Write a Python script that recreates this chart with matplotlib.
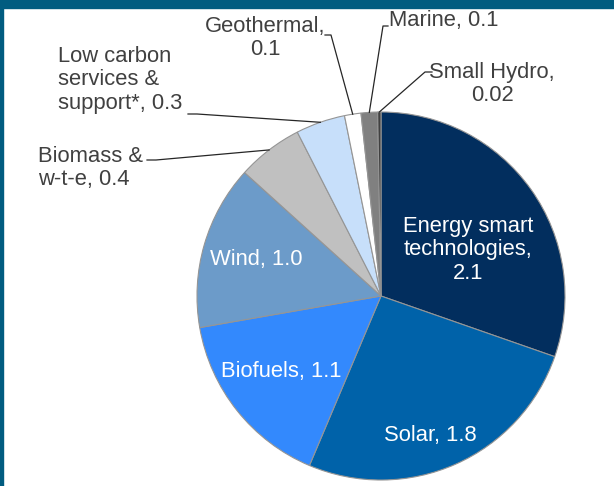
import numpy as np
import matplotlib
matplotlib.use("Agg")
import matplotlib.pyplot as plt
from matplotlib.patches import Rectangle

plt.rcParams['font.family'] = ['Liberation Sans', 'DejaVu Sans']

# Sector sizes (£bn), clockwise from 12 o'clock
sectors = ["Energy smart\ntechnologies", "Solar", "Biofuels", "Wind",
           "Biomass &\nw-t-e", "Low carbon\nservices &\nsupport*",
           "Geothermal", "Marine", "Small Hydro"]
values = [2.1, 1.8, 1.1, 1.0, 0.4, 0.3, 0.1, 0.1, 0.02]
value_text = ["2.1", "1.8", "1.1", "1.0", "0.4", "0.3", "0.1", "0.1", "0.02"]
colors = ["#022E5E", "#0062A9", "#3389FD", "#6C9BC9", "#C0C0C0",
          "#C7DFFA", "#FFFFFF", "#808080", "#404040"]

W, H = 614, 486
fig = plt.figure(figsize=(W / 100, H / 100), dpi=100)
ax = fig.add_axes([0, 0, 1, 1])

cx, cy, R = 381, H - 296, 184

wedges, _ = ax.pie(values, colors=colors, startangle=90, counterclock=False,
                   center=(cx, cy), radius=R, frame=True,
                   wedgeprops=dict(edgecolor="#959595", linewidth=0.8))
ax.set_xlim(0, W)
ax.set_ylim(0, H)
ax.axis("off")

fs = 15.8
ls = 1.15
tc = "#404040"

def mid_point(i, r):
    w = wedges[i]
    a = np.deg2rad((w.theta1 + w.theta2) / 2)
    return cx + r * np.cos(a), cy + r * np.sin(a)

# Inner labels (white)
inner_pos = {0: (468, H - 250), 1: (430, H - 435),
             2: (281, H - 371), 3: (256, H - 260)}
for i, (x, y) in inner_pos.items():
    if i == 0:
        txt = sectors[i].replace("\n", "\n") + ",\n" + value_text[i]
    else:
        txt = f"{sectors[i]}, {value_text[i]}"
    ax.text(x, y, txt, ha="center", va="center", color="white",
            fontsize=fs, linespacing=ls)

# Outer labels with leader lines
lc = "#262626"
# Geothermal
ax.text(265, H - 38, f"{sectors[6]},\n{value_text[6]}", ha="center",
        va="center", color=tc, fontsize=fs, linespacing=ls)
px, py = mid_point(6, R)
ax.plot([325, 331, px], [H - 35, H - 35, py], color=lc, lw=0.9)
# Marine
ax.text(389, H - 21, f"{sectors[7]}, {value_text[7]}", ha="left",
        va="center", color=tc, fontsize=fs)
px, py = mid_point(7, R)
ax.plot([388, 383, px], [H - 26, H - 26, py], color=lc, lw=0.9)
# Small Hydro
ax.text(492, H - 84, f"{sectors[8]},\n{value_text[8]}", ha="center",
        va="center", color=tc, fontsize=fs, linespacing=ls)
px, py = mid_point(8, R)
ax.plot([432, 425, px], [H - 72, H - 72, py], color=lc, lw=0.9)
# Low carbon services & support
ax.text(58, H - 80, f"{sectors[5]}, {value_text[5]}", ha="left",
        va="center", color=tc, fontsize=fs, linespacing=ls)
px, py = mid_point(5, R)
ax.plot([188, 197, px], [H - 114, H - 114, py], color=lc, lw=0.9)
# Biomass & w-t-e
ax.text(38, H - 168, f"{sectors[4]}, {value_text[4]}", ha="left",
        va="center", color=tc, fontsize=fs, linespacing=ls)
px, py = mid_point(4, R)
ax.plot([147, 156, px], [H - 160, H - 160, py], color=lc, lw=0.9)

# Frame: top band and left edge
frame_col = "#015C80"
ax.add_patch(Rectangle((0, H - 8), W, 8, color=frame_col, zorder=5,
                       clip_on=False))
ax.add_patch(Rectangle((0, 0), 3, H, color=frame_col, zorder=5,
                       clip_on=False))

fig.savefig("out.png", dpi=100)
